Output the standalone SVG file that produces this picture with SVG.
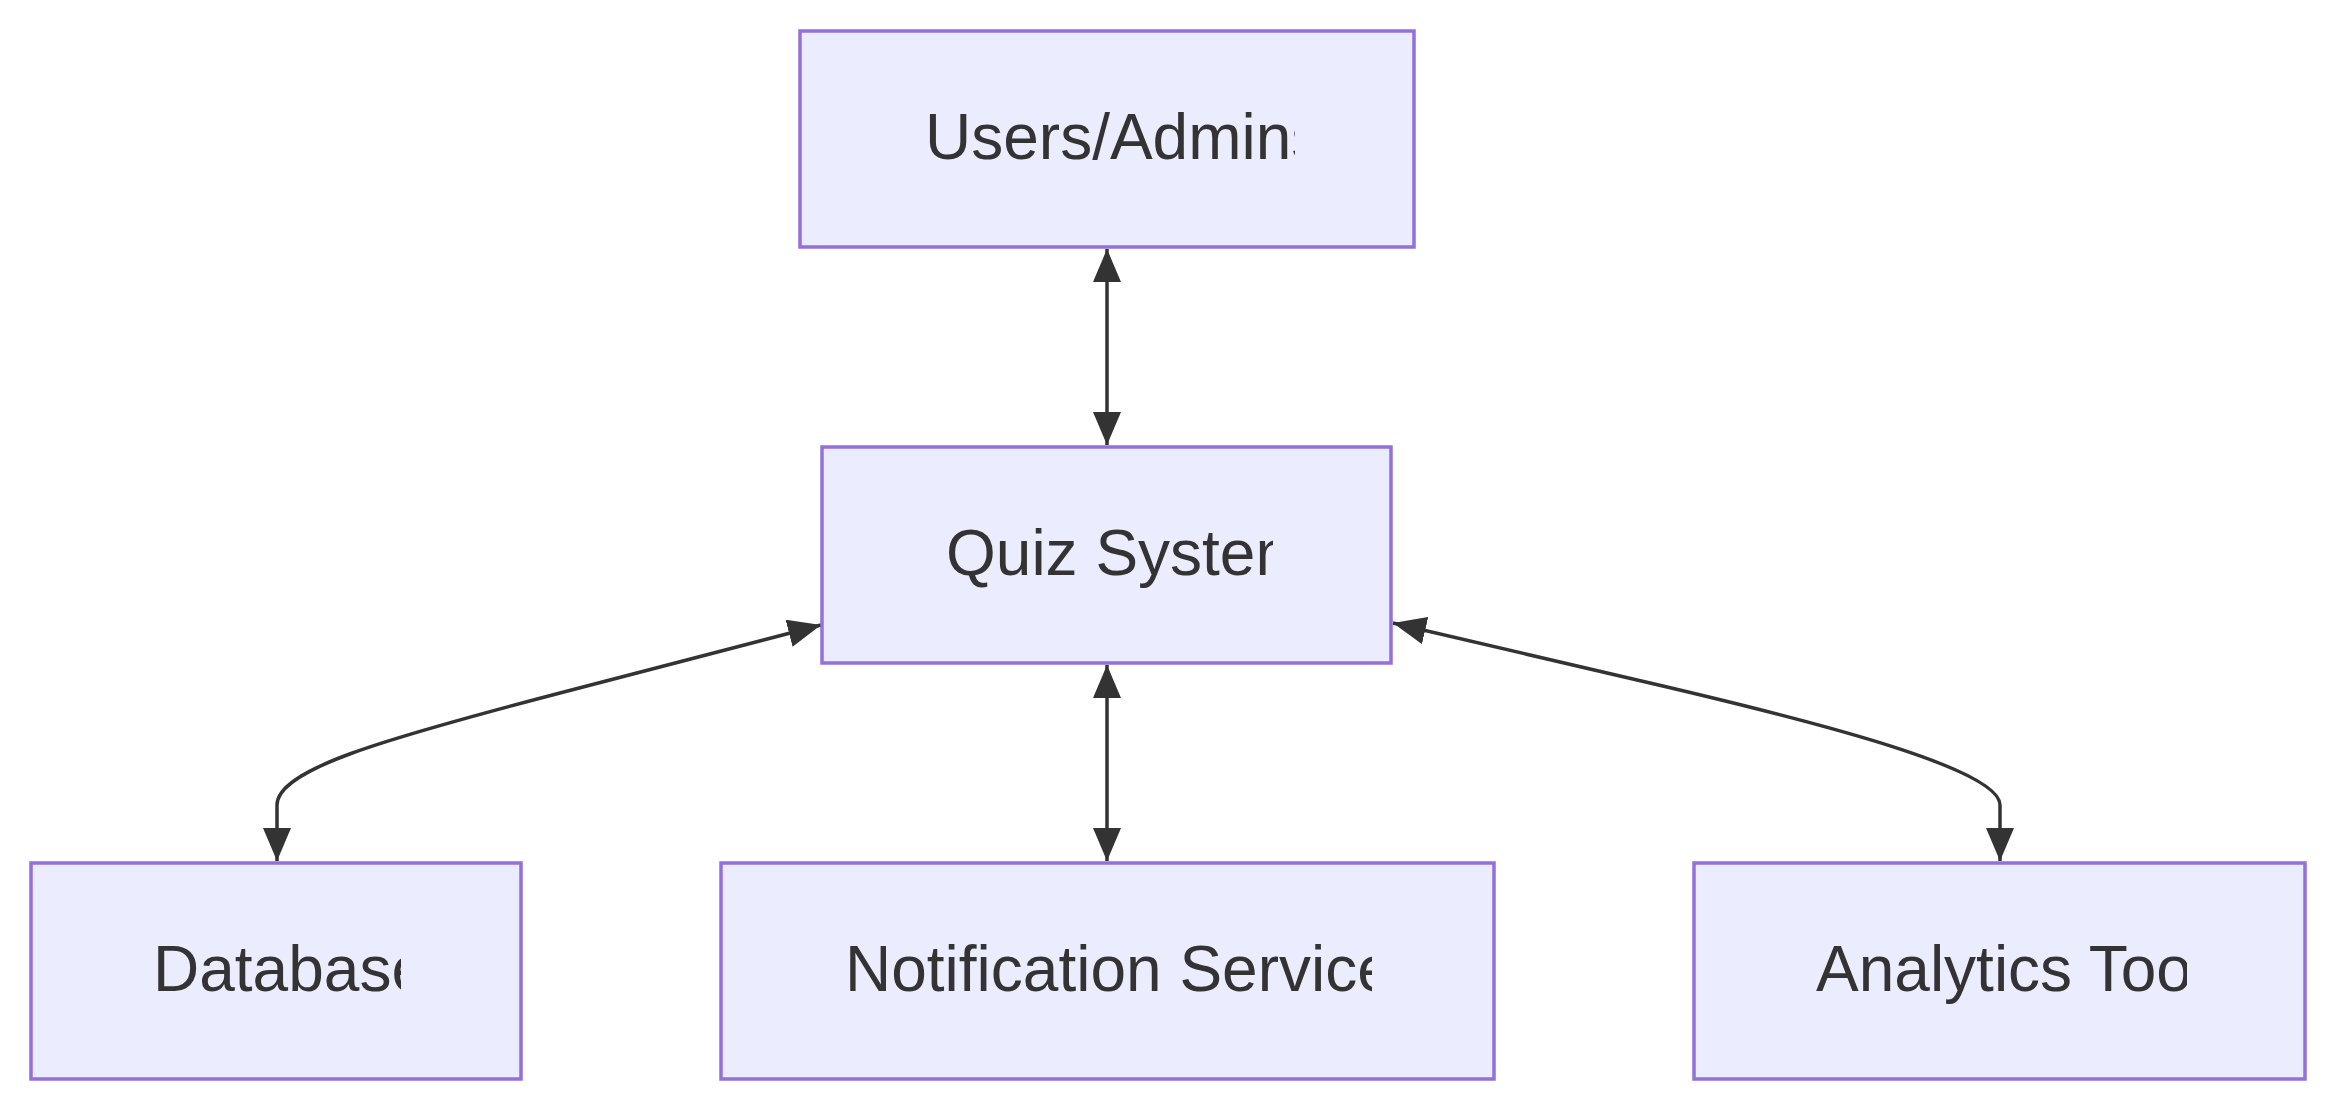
<svg xmlns="http://www.w3.org/2000/svg" width="2336" height="1112" viewBox="0 0 2336 1112">
<style>
.node rect{fill:#ECECFF;stroke:#9370DB;stroke-width:3.5}
.node text{font-family:"Liberation Sans",Arial,sans-serif;font-size:64px;fill:#333333}
.edge{fill:none;stroke:#333333;stroke-width:3.5}
</style>
<defs>
<marker id="arr" viewBox="0 0 33 28" refX="33" refY="14" markerWidth="33" markerHeight="28" markerUnits="userSpaceOnUse" orient="auto-start-reverse">
<path d="M0,0 L33,14 L0,28 z" fill="#333333"/>
</marker>
<clipPath id="c1"><rect x="800" y="31" width="495" height="216"/></clipPath>
<clipPath id="c2"><rect x="822" y="447" width="451" height="216"/></clipPath>
<clipPath id="c3"><rect x="31" y="863" width="370" height="216"/></clipPath>
<clipPath id="c4"><rect x="721" y="863" width="651" height="216"/></clipPath>
<clipPath id="c5"><rect x="1694" y="863" width="493" height="216"/></clipPath>
</defs>
<rect width="2336" height="1112" fill="#ffffff"/>
<g id="connectors">
<path class="edge" d="M1107,249 L1107,445" marker-start="url(#arr)" marker-end="url(#arr)"/>
<path class="edge" d="M1107,665 L1107,861" marker-start="url(#arr)" marker-end="url(#arr)"/>
<path class="edge" d="M821,625 L560,693 C380,740 277,770 277,805 L277,861" marker-start="url(#arr)" marker-end="url(#arr)"/>
<path class="edge" d="M1393,623 L1650,683 C1830,725 2000,770 2000,805 L2000,861" marker-start="url(#arr)" marker-end="url(#arr)"/>
</g>
<g id="users" class="node">
<rect x="800" y="31" width="614" height="216"/>
<text x="925" y="159" clip-path="url(#c1)">Users/Admins</text>
</g>
<g id="quiz" class="node">
<rect x="822" y="447" width="569" height="216"/>
<text x="946" y="575" clip-path="url(#c2)">Quiz System</text>
</g>
<g id="database" class="node">
<rect x="31" y="863" width="490" height="216"/>
<text x="153" y="991" clip-path="url(#c3)">Database</text>
</g>
<g id="notification" class="node">
<rect x="721" y="863" width="773" height="216"/>
<text x="845" y="991" clip-path="url(#c4)">Notification Service</text>
</g>
<g id="analytics" class="node">
<rect x="1694" y="863" width="611" height="216"/>
<text x="1816" y="991" clip-path="url(#c5)">Analytics Tool</text>
</g>
</svg>
